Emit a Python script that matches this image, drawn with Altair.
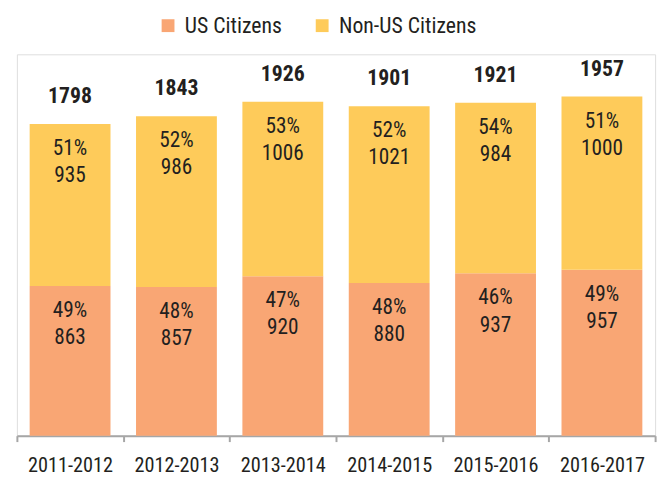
import altair as alt
import pandas as pd

years = ["2011-2012", "2012-2013", "2013-2014", "2014-2015", "2015-2016", "2016-2017"]
us_counts = [863, 857, 920, 880, 937, 957]
non_counts = [935, 986, 1006, 1021, 984, 1000]
us_pct = [49, 48, 47, 48, 46, 49]
non_pct = [51, 52, 53, 52, 54, 51]
totals = [1798, 1843, 1926, 1901, 1921, 1957]
groups = ["US Citizens", "Non-US Citizens"]
colors = ["#F9A674", "#FECB5A"]

FONT = "Roboto Condensed, Liberation Sans Narrow, DejaVu Sans Condensed, sans-serif"

rows = []
for i, yr in enumerate(years):
    rows.append({"year": yr, "group": groups[0], "start": 0, "end": us_counts[i],
                 "label": f"{us_pct[i]}%\n{us_counts[i]}"})
    rows.append({"year": yr, "group": groups[1], "start": us_counts[i],
                 "end": us_counts[i] + non_counts[i],
                 "label": f"{non_pct[i]}%\n{non_counts[i]}"})
seg = pd.DataFrame(rows)
tot = pd.DataFrame({"year": years, "total": totals})

xenc = alt.X("year:N", sort=years, title=None,
             scale=alt.Scale(paddingInner=0, paddingOuter=0),
             axis=alt.Axis(tickBand="extent", labelAngle=0, labelFont=FONT,
                           labelFontSize=20.5, labelColor="#231F20",
                           domainColor="#A6A6A6", domainWidth=2,
                           tickColor="#A6A6A6", tickWidth=2, tickSize=6,
                           labelPadding=14))
yscale = alt.Scale(domain=[0, 2200], nice=False)

bars = alt.Chart(seg).mark_bar(width=alt.RelativeBandSize(0.76)).encode(
    x=xenc,
    y=alt.Y("start:Q", scale=yscale, axis=None),
    y2="end:Q",
    color=alt.Color("group:N", scale=alt.Scale(domain=groups, range=colors),
                    legend=alt.Legend(title=None, orient="none", direction="horizontal",
                                      legendX=142, legendY=-40,
                                      symbolType="square", symbolSize=169,
                                      symbolStrokeWidth=0, symbolOpacity=1,
                                      labelFont=FONT, labelFontSize=22,
                                      labelColor="#231F20", columnPadding=29,
                                      labelOffset=6)),
)

inner = alt.Chart(seg).mark_text(font=FONT, fontSize=21.5, color="#231F20",
                                  baseline="alphabetic", dy=31.5, lineBreak="\n",
                                  lineHeight=27.5).encode(
    x=alt.X("year:N", sort=years),
    y=alt.Y("end:Q", scale=yscale),
    text="label:N",
)

top = alt.Chart(tot).mark_text(font=FONT, fontSize=22, fontWeight="bold",
                                color="#231F20", baseline="alphabetic", dy=-21).encode(
    x=alt.X("year:N", sort=years),
    y=alt.Y("total:Q", scale=yscale),
    text="total:Q",
)

chart = alt.layer(bars, inner, top).properties(
    width=646, height=386,
    autosize=alt.AutoSizeParams(type="none"),
    padding={"left": 9, "top": 44, "right": 9, "bottom": 42},
).configure_view(stroke=None).configure(background="white")

chart.save("out.html", embed_options={"renderer": "svg", "actions": False})
